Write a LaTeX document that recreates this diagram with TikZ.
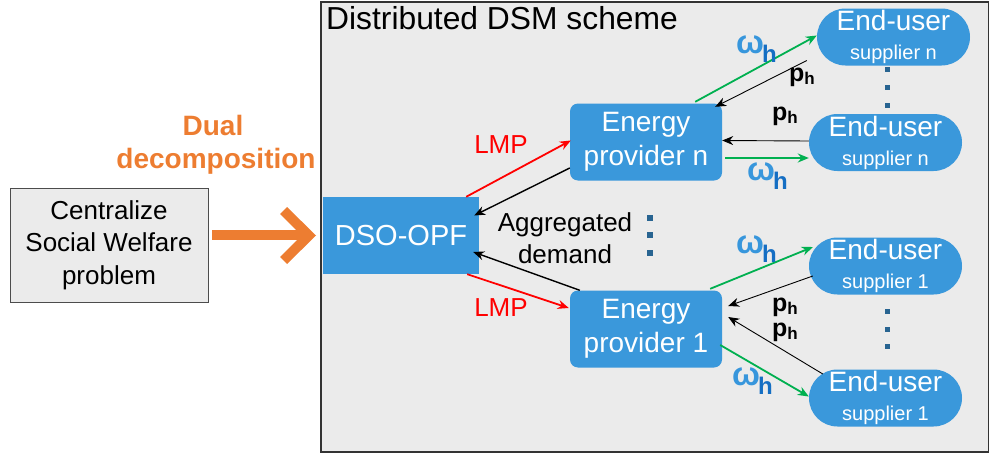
\documentclass[tikz,border=0pt]{standalone}
\usepackage{fontspec}
\setmainfont{Liberation Sans}
\usetikzlibrary{arrows.meta,shapes.misc}
\definecolor{bggray}{RGB}{235,235,235}
\definecolor{boxblue}{RGB}{58,152,219}
\definecolor{arrorange}{RGB}{237,125,49}
\definecolor{arrgreen}{RGB}{0,176,80}
\definecolor{dotblue}{RGB}{40,100,145}
\definecolor{omblue}{RGB}{55,150,220}
\definecolor{hblue}{RGB}{20,110,195}
\newcommand{\omh}{{\color{omblue}\bfseries\fontsize{33}{33}\selectfont ω}\kern-2pt\raisebox{-9pt}{\color{hblue}\bfseries\fontsize{24}{24}\selectfont h}}
\newcommand{\pth}{{\bfseries\fontsize{25}{25}\selectfont p}\raisebox{-3pt}{\bfseries\fontsize{17}{17}\selectfont h}}
\begin{document}
\begin{tikzpicture}[x=1pt,y=-1pt,
  bluebox/.style={fill=boxblue,draw=none,text=white,inner sep=0pt,align=center,anchor=center},
  provbox/.style={bluebox,rounded corners=8pt,minimum width=152pt,minimum height=77pt,font=\fontsize{28}{34}\selectfont},
  userbox/.style={bluebox,rounded rectangle,minimum width=153pt,minimum height=57pt,font=\fontsize{20}{29}\selectfont},
  lbl/.style={inner sep=0pt,anchor=base west},
  redarr/.style={draw=red,line width=1.8pt,-{Stealth[length=11pt,width=9pt]}},
  greenarr/.style={draw=arrgreen,line width=1.8pt,-{Stealth[length=11pt,width=9pt]}},
  blackarr/.style={draw=black,line width=1.4pt,-{Stealth[length=11pt,width=9pt]}},
  thinarr/.style={draw=black,line width=0.9pt,-{Stealth[length=11pt,width=9pt]}},
  dot/.style={fill=dotblue}
]
\useasboundingbox (0,0) rectangle (989,455);
% frame
\draw[fill=bggray,draw=black!80,line width=1.6pt] (321,2) rectangle (988.5,452);
\node[lbl,font=\fontsize{31.8}{31.8}\selectfont] (title) at (326,30) {Distributed DSM scheme};

% centralized problem
\node[fill=bggray,draw=black!70,line width=1pt,minimum width=198pt,minimum height=114pt,inner sep=0pt,align=center,font=\fontsize{26}{32.5}\selectfont] (central) at (109,245) {Centralize\\Social Welfare\\problem};

% dual decomposition text
\node[inner sep=0pt,anchor=base,text=arrorange,font=\bfseries\fontsize{28}{28}\selectfont] (dual) at (213,135) {Dual};
\node[inner sep=0pt,anchor=base,text=arrorange,font=\bfseries\fontsize{28}{28}\selectfont] (decomp) at (216,168) {decomposition};

% orange arrow
\fill[arrorange] (212,230) rectangle (304,240);
\fill[arrorange] (316,235.5) -- (287,207) -- (280,214) -- (301.5,235.5) -- (280,257) -- (287,264) -- cycle;

% DSO
\node[bluebox,minimum width=156pt,minimum height=77pt,font=\fontsize{29}{29}\selectfont] (dso) at (401,235.5) {DSO-OPF};

% providers
\node[provbox] (provn) at (646,142) {Energy\\provider n};
\node[provbox,minimum height=77pt] (prov1) at (646,329) {Energy\\provider 1};

% end users
\node[userbox] (eunb) at (893.5,37) {{\fontsize{28}{28}\selectfont End-user}\\supplier n};
\node[userbox] (euna) at (885.5,142.5) {{\fontsize{28}{28}\selectfont End-user}\\supplier n};
\node[userbox] (eu1a) at (885.5,266) {{\fontsize{28}{28}\selectfont End-user}\\supplier 1};
\node[userbox] (eu1b) at (885.5,398) {{\fontsize{28}{28}\selectfont End-user}\\supplier 1};

% dots
\foreach \yy in {69.5,87.5,105.5} \fill[dot] (884.5,\yy-2.5) rectangle (890,\yy+2.5);
\foreach \yy in {311,329,346} \fill[dot] (884.5,\yy-2.5) rectangle (890,\yy+2.5);
\foreach \yy in {218,235,253} \fill[dot] (646.5,\yy-3) rectangle (652.5,\yy+3);

% DSO <-> providers
\draw[redarr] ([xshift=-13pt]dso.north east) -- ([xshift=1pt,yshift=1.5pt]provn.west);
\draw[blackarr] ([yshift=-26pt]provn.west) -- ([xshift=-5pt,yshift=20pt]dso.east);
\draw[blackarr] ([xshift=10pt]prov1.north west) -- ([xshift=-6pt,yshift=-16.5pt]dso.east);
\draw[redarr] ([xshift=-12pt]dso.south east) -- ([xshift=-1pt,yshift=21pt]prov1.west);

\node[inner sep=0pt,text=red,font=\fontsize{26}{26}\selectfont] (lmpn) at (501,145) {LMP};
\node[inner sep=0pt,text=red,font=\fontsize{26}{26}\selectfont] (lmp1) at (501,308) {LMP};
\node[inner sep=0pt,align=center,font=\fontsize{26}{32}\selectfont] (agg) at (565,238) {Aggregated\\demand};

% provider n <-> end users
\draw[greenarr] ([xshift=-27pt,yshift=1.5pt]provn.north east) -- ([yshift=1.5pt]eunb.west);
\draw[thinarr] ([xshift=-10pt,yshift=-23.5pt]eunb.west) -- ([xshift=-7pt,yshift=-3.5pt]provn.north east);
\draw[thinarr] ([yshift=1.5pt]euna.west) -- ([yshift=1.5pt]provn.east);
\draw[greenarr] ([xshift=3pt,yshift=-16pt]provn.east) -- ([yshift=-15.5pt]euna.west);

% provider 1 <-> end users
\draw[greenarr] ([xshift=-12pt,yshift=1.5pt]prov1.north east) -- ([xshift=4pt,yshift=19pt]eu1a.west);
\draw[thinarr] ([xshift=4pt,yshift=-10pt]eu1a.west) -- ([xshift=6pt,yshift=23pt]prov1.east);
\draw[thinarr] ([xshift=14pt,yshift=24pt]eu1b.west) -- ([xshift=6pt,yshift=12pt]prov1.east);
\draw[greenarr] ([xshift=-2pt,yshift=-16pt]prov1.east) -- ([yshift=1.5pt]eu1b.west);

% labels
\node[lbl] (om1) at (736,53) {\omh};
\node[lbl] (om2) at (747,180) {\omh};
\node[lbl] (om3) at (736,253) {\omh};
\node[lbl] (om4) at (732,385) {\omh};
\node[lbl] (ph1) at (789,81) {\pth};
\node[lbl] (ph2) at (772,120) {\pth};
\node[lbl] (ph3) at (772,311) {\pth};
\node[lbl] (ph4) at (772,336) {\pth};
\end{tikzpicture}
\end{document}
